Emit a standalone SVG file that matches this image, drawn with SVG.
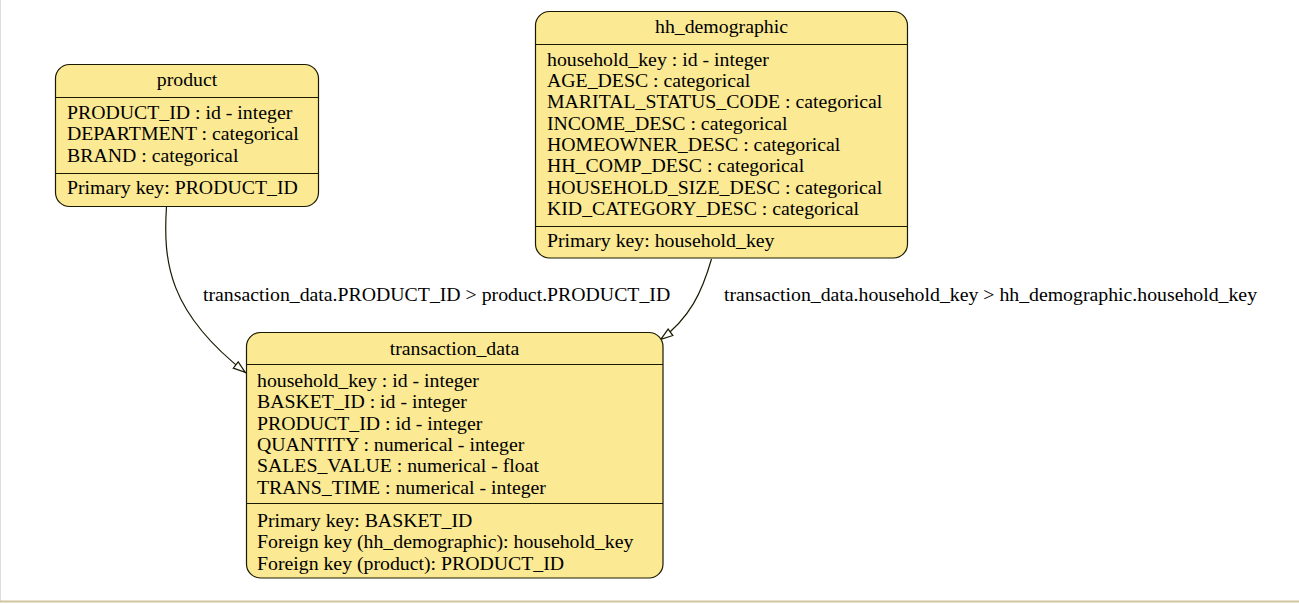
<svg xmlns="http://www.w3.org/2000/svg" width="1299" height="604" viewBox="0 0 1299 604">
<defs>
<style>
.box{fill:#fbe993;stroke:#1a1a00;stroke-width:1.2}
.sep{stroke:#1a1a00;stroke-width:1.2}
text{font-family:"Liberation Serif","Times New Roman",serif;font-size:19.8px;fill:#000}
.t{text-anchor:middle}
.edge{fill:none;stroke:#1a1a00;stroke-width:1.2}
</style>
<marker id="arr" viewBox="0 0 14 10" refX="14" refY="5" markerWidth="14" markerHeight="10" markerUnits="userSpaceOnUse" orient="auto">
<path d="M1,1 L13,5 L1,9 Z" fill="#fff" stroke="#1a1a00" stroke-width="1.2"/>
</marker>
</defs>
<rect x="0" y="0" width="1299" height="604" fill="#fff"/>
<line x1="0.5" y1="0" x2="0.5" y2="602" stroke="#ddd" stroke-width="1"/>
<line x1="0" y1="601.5" x2="1299" y2="601.5" stroke="#cfc6a0" stroke-width="2"/>

<g id="edges">
<path class="edge" d="M166.5,206 C163,262 168,312 246,373" marker-end="url(#arr)"/>
<text x="203" y="301">transaction_data.PRODUCT_ID &gt; product.PRODUCT_ID</text>
<path class="edge" d="M711.5,259 C702,292 690,318 660,340" marker-end="url(#arr)"/>
<text x="724" y="301">transaction_data.household_key &gt; hh_demographic.household_key</text>
</g>

<g id="product">
<rect class="box" x="55.5" y="64.5" width="263" height="142" rx="14"/>
<line class="sep" x1="55.5" y1="97.5" x2="318.5" y2="97.5"/>
<line class="sep" x1="55.5" y1="173.5" x2="318.5" y2="173.5"/>
<text class="t" x="187" y="86">product</text>
<text x="67" y="119">PRODUCT_ID : id - integer</text>
<text x="67" y="140">DEPARTMENT : categorical</text>
<text x="67" y="162">BRAND : categorical</text>
<text x="67" y="194">Primary key: PRODUCT_ID</text>
</g>

<g id="hh_demographic">
<rect class="box" x="535.5" y="11.5" width="372" height="246.5" rx="14"/>
<line class="sep" x1="535.5" y1="44.5" x2="907.5" y2="44.5"/>
<line class="sep" x1="535.5" y1="226.5" x2="907.5" y2="226.5"/>
<text class="t" x="721.5" y="33">hh_demographic</text>
<text x="547" y="66">household_key : id - integer</text>
<text x="547" y="87">AGE_DESC : categorical</text>
<text x="547" y="108">MARITAL_STATUS_CODE : categorical</text>
<text x="547" y="130">INCOME_DESC : categorical</text>
<text x="547" y="151">HOMEOWNER_DESC : categorical</text>
<text x="547" y="172">HH_COMP_DESC : categorical</text>
<text x="547" y="194">HOUSEHOLD_SIZE_DESC : categorical</text>
<text x="547" y="215">KID_CATEGORY_DESC : categorical</text>
<text x="547" y="247">Primary key: household_key</text>
</g>

<g id="transaction_data">
<rect class="box" x="246.5" y="332.5" width="416.5" height="245.5" rx="14"/>
<line class="sep" x1="246.5" y1="364.5" x2="663" y2="364.5"/>
<line class="sep" x1="246.5" y1="503.5" x2="663" y2="503.5"/>
<text class="t" x="454.5" y="355">transaction_data</text>
<text x="257" y="387">household_key : id - integer</text>
<text x="257" y="408">BASKET_ID : id - integer</text>
<text x="257" y="430">PRODUCT_ID : id - integer</text>
<text x="257" y="451">QUANTITY : numerical - integer</text>
<text x="257" y="472">SALES_VALUE : numerical - float</text>
<text x="257" y="494">TRANS_TIME : numerical - integer</text>
<text x="257" y="527">Primary key: BASKET_ID</text>
<text x="257" y="548">Foreign key (hh_demographic): household_key</text>
<text x="257" y="570">Foreign key (product): PRODUCT_ID</text>
</g>
</svg>
